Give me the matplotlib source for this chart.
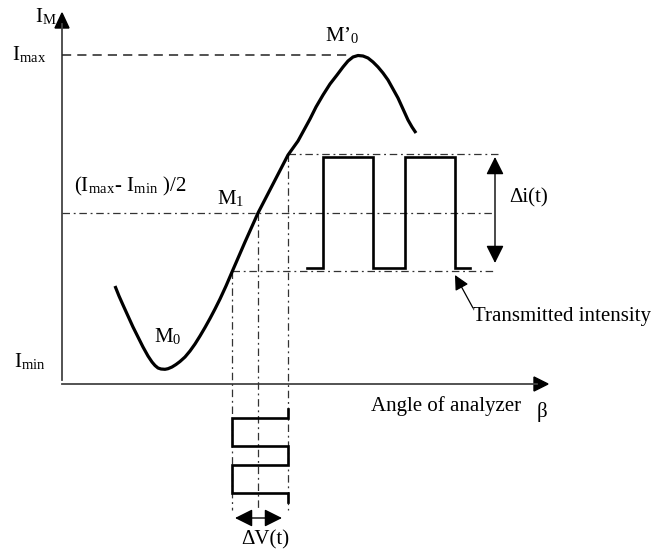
import matplotlib
matplotlib.use("Agg")
import matplotlib.pyplot as plt

plt.rcParams['font.family'] = ['Liberation Serif', 'DejaVu Serif']
plt.rcParams['mathtext.fontset'] = 'stix'

# ---- data (pixel-like diagram coordinates) ----
curve_x = [115, 119, 123, 128, 133, 138, 143, 148, 152, 155, 158, 161, 165, 168, 172,
           176, 180, 185, 190, 195, 200, 205, 210, 215, 220, 226, 232, 245, 258, 273,
           288, 298, 304, 310, 316, 323, 330, 337, 343, 348, 353, 358, 363, 368,
           373, 378, 383, 388, 393, 398, 403, 408, 412, 416]
curve_y = [286, 296, 305, 316, 327, 337, 347, 356, 362, 365.5, 368, 369, 369.3, 368.7, 367,
           364.5, 361.5, 357, 351, 344, 336, 327.5, 318.5, 309, 299, 286, 272, 242, 213, 184,
           155, 141, 130, 119, 107, 95, 84, 75, 67, 61, 57, 55.5, 56, 58,
           62, 67, 73, 80, 89, 98, 109, 120, 127, 133]

trans_x = [307, 323, 323, 373, 373, 405, 405, 455, 455, 470]
trans_y = [268, 268, 157, 157, 268, 268, 157, 157, 268, 268]

volt_x = [288, 288, 232, 232, 288, 288, 232, 232, 288, 288]
volt_y = [409, 418, 418, 446, 446, 465, 465, 493, 493, 502]

y_max, y_mid, y_hi, y_lo = 55, 213, 154, 271
x_lo, x_mid, x_hi = 232, 258, 288
x_axis_y, y_axis_x = 384, 62

fig = plt.figure(figsize=(6.6, 5.54), dpi=100)
ax = fig.add_axes([0, 0, 1, 1])
ax.set_xlim(0, 660)
ax.set_ylim(554, 0)
ax.axis('off')

axcol = '#444444'
# axes
ax.plot([y_axis_x, y_axis_x], [380, 24], color=axcol, lw=1.3)
ax.plot([y_axis_x, 537], [x_axis_y, x_axis_y], color=axcol, lw=1.3)
ax.fill([y_axis_x - 7, y_axis_x + 7, y_axis_x], [28, 28, 13], color='black')
ax.fill([534, 534, 548], [x_axis_y - 7, x_axis_y + 7, x_axis_y], color='black')

dd = (0, (6, 3, 1.5, 3))
lc = '#333333'
# Imax dashed line
ax.plot([y_axis_x, 350], [y_max, y_max], color='#222222', lw=1.1, linestyle=(0, (6, 4)))
# dash-dot lines
ax.plot([y_axis_x, 493], [y_mid, y_mid], color=lc, lw=0.9, linestyle=dd)
ax.plot([x_hi, 500], [y_hi, y_hi], color=lc, lw=0.9, linestyle=dd)
ax.plot([x_lo, 493], [y_lo, y_lo], color=lc, lw=0.9, linestyle=dd)
for xv, y0 in [(x_lo, y_lo), (x_mid, y_mid), (x_hi, y_hi)]:
    ax.plot([xv, xv], [y0, 510], color=lc, lw=0.9, linestyle=dd)

# curve
ax.plot(curve_x, curve_y, color='black', lw=2.3, solid_capstyle='butt', solid_joinstyle='round')
# square waves
ax.plot(trans_x, trans_y, color='black', lw=1.9, solid_joinstyle='miter')
ax.plot(volt_x, volt_y, color='black', lw=1.9, solid_joinstyle='miter')

# double arrows
ax.annotate('', xy=(495, 157), xytext=(495, 263),
            arrowprops=dict(arrowstyle='<|-|>', color='black', lw=1.0,
                            mutation_scale=27, shrinkA=0, shrinkB=0))
ax.annotate('', xy=(235, 518), xytext=(282, 518),
            arrowprops=dict(arrowstyle='<|-|>', color='black', lw=1.0,
                            mutation_scale=27, shrinkA=0, shrinkB=0))
# transmitted intensity pointer
ax.annotate('', xy=(455, 275), xytext=(473, 308),
            arrowprops=dict(arrowstyle='-|>', color='black', lw=0.9,
                            mutation_scale=22, shrinkA=0, shrinkB=0))

fs = 15
ax.text(35, 17, r'I$_\mathregular{M}$', fontsize=fs, va='center', ha='left')
ax.text(12, 55, r'I$_\mathregular{max}$', fontsize=fs, va='center', ha='left')
ax.text(14, 362, r'I$_\mathregular{min}$', fontsize=fs, va='center', ha='left')
ax.text(74, 186, r'(I$_\mathregular{max}$- I$_\mathregular{min}$ )/2', fontsize=fs, va='center', ha='left')
ax.text(217, 199, r'M$_\mathregular{1}$', fontsize=fs, va='center', ha='left')
ax.text(325, 36, r'M’$_\mathregular{0}$', fontsize=fs, va='center', ha='left')
ax.text(154, 337, r'M$_\mathregular{0}$', fontsize=fs, va='center', ha='left')
ax.text(509, 198, 'Δi(t)', fontsize=fs, va='center', ha='left')
ax.text(473, 317, 'Transmitted intensity', fontsize=fs, va='center', ha='left')
ax.text(371, 406, 'Angle of analyzer', fontsize=fs, va='center', ha='left')
ax.text(537, 412, 'β', fontsize=fs, va='center', ha='left')
ax.text(265, 540, 'ΔV(t)', fontsize=fs, va='center', ha='center')

fig.savefig('out.png', dpi=100)
